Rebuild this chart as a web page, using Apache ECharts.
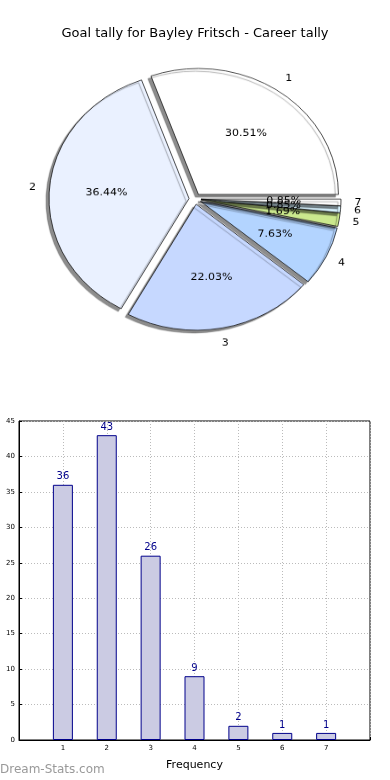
<!DOCTYPE html>
<html><head><meta charset="utf-8">
<script src="https://cdn.jsdelivr.net/npm/echarts@6/dist/echarts.min.js"></script>
<style>html,body{margin:0;padding:0;background:#fff}
#c{position:absolute;left:0;top:0;width:390px;height:780px}
#p{position:absolute;left:0;top:0;width:390px;height:420px;transform:scaleY(0.9);transform-origin:0 0}
</style>
</head><body><div id="c"></div><div id="p"></div>
<script>
const titleText = 'Goal tally for Bayley Fritsch - Career tally';
const categories = ['1','2','3','4','5','6','7'];
const counts = [36, 43, 26, 9, 2, 1, 1];
const sliceColors = ['#ffffff','#eaf1ff','#c6d8ff','#b3d4ff','#cbe88e','#d8f3ff','#ffffff'];
const yTicks = [0,5,10,15,20,25,30,35,40,45];

const F = 'DejaVu Sans';
const chart = echarts.init(document.getElementById('c'), null, {renderer:'canvas'});
const pie = echarts.init(document.getElementById('p'), null, {renderer:'canvas'});
const R = 140, C = [195, 221];
const pieData = categories.map((c,i)=>({name:c, value:counts[i], selected:true,
  itemStyle:{color:sliceColors[i]}}));
const transData = categories.map((c,i)=>({name:c, value:counts[i], selected:true,
  itemStyle:{color:'rgba(0,0,0,0)', borderWidth:0, shadowBlur:0, shadowColor:'rgba(0,0,0,0)'}}));
const common = {type:'pie', center:C, startAngle:0, clockwise:false, selectedMode:'multiple',
  selectedOffset:6, animation:false, silent:true, emphasis:{disabled:true},
  avoidLabelOverlap:false, labelLayout:{hideOverlap:false}, minShowLabelAngle:0};

pie.setOption({
  animation:false,
  series:[
    Object.assign({}, common, {radius:[0,R], data:pieData,
      itemStyle:{borderColor:'#000', borderWidth:0.7, shadowColor:'rgba(0,0,0,0.45)', shadowBlur:1, shadowOffsetX:-3, shadowOffsetY:3},
      label:{show:false}, labelLine:{show:false}}),
    Object.assign({}, common, {radius:[R*0.47,R*0.67], data:transData,
      label:{show:true, position:'inside', formatter:'{d}%', fontFamily:F, fontSize:11, color:'#000'}, labelLine:{show:false}}),
    Object.assign({}, common, {radius:[R*1.05,R*1.15], data:transData,
      label:{show:true, position:'inside', formatter:'{b}', fontFamily:F, fontSize:11, color:'#000'}, labelLine:{show:false}})
  ]
});

chart.setOption({
  animation:false,
  title:{text:titleText, left:'center', top:22, textStyle:{fontFamily:F, fontSize:13, fontWeight:'normal', color:'#000'}},
  graphic:[{type:'text', left:0, top:764, style:{text:'Dream-Stats.com', fill:'#999', font:'12px "DejaVu Sans"'}}],
  grid:{left:19, right:20, top:421, bottom:40, show:true, borderColor:'#000', borderWidth:1},
  xAxis:{type:'value', min:0, max:8, interval:1, name:'Frequency', nameLocation:'middle', nameGap:20,
    nameTextStyle:{fontFamily:F, fontSize:11, color:'#000'},
    axisLine:{show:true, lineStyle:{color:'#000'}}, axisTick:{show:true, inside:true, length:3, lineStyle:{color:'#000'}},
    axisLabel:{fontFamily:F, fontSize:7, color:'#000', margin:5, formatter:v=>(v>=1&&v<=7)?String(v):''},
    splitLine:{show:true, lineStyle:{color:'#bbb', type:[1,2]}}},
  yAxis:{type:'value', min:0, max:45, interval:5,
    axisLine:{show:true, lineStyle:{color:'#000'}}, axisTick:{show:true, inside:true, length:3, lineStyle:{color:'#000'}},
    axisLabel:{fontFamily:F, fontSize:7, color:'#000', margin:4, formatter:v=>yTicks.includes(v)?String(v):''},
    splitLine:{show:true, lineStyle:{color:'#bbb', type:[1,2]}}},
  series:[
    {type:'bar', data:categories.map((c,i)=>[Number(c), counts[i]]), barWidth:20, animation:false,
      itemStyle:{color:'#cbcbe3', borderColor:'#00008b', borderWidth:1},
      label:{show:true, position:'top', distance:3, fontFamily:F, fontSize:10, color:'#00008b'}}
  ]
});
</script></body></html>
